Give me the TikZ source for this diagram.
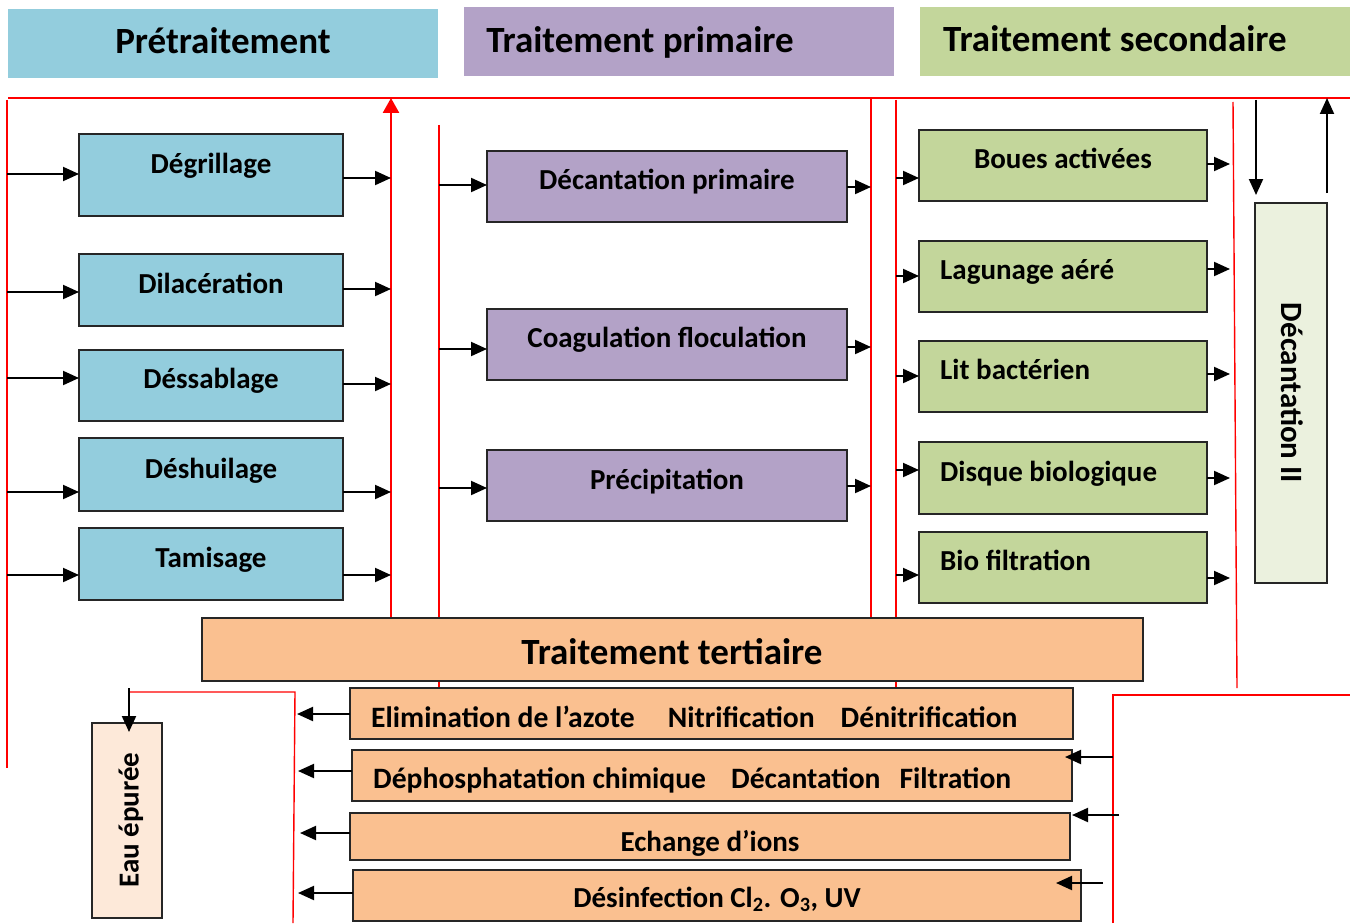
\documentclass[tikz,border=0pt]{standalone}
\usepackage{fontspec}
\setmainfont{Carlito}
\usetikzlibrary{arrows.meta}
\definecolor{cblue}{HTML}{93CDDD}
\definecolor{cpurple}{HTML}{B3A2C7}
\definecolor{cgreen}{HTML}{C3D69B}
\definecolor{corange}{HTML}{FAC090}
\definecolor{clgreen}{HTML}{EBF1DE}
\definecolor{cpeach}{HTML}{FDE9D9}
\definecolor{cred}{HTML}{FF0000}
\begin{document}
\begin{tikzpicture}[x=1pt,y=-1pt,
  box/.style={draw=black!85, line width=1.6pt, inner sep=0pt, outer sep=0pt},
  hdr/.style={inner sep=0pt, outer sep=0pt},
  btxt/.style={font=\fontsize{29}{34}\selectfont\bfseries, inner sep=0pt, anchor=base},
  ltxt/.style={font=\fontsize{29.6}{34}\selectfont\bfseries, inner sep=0pt, anchor=base west},
  htxt/.style={font=\fontsize{37}{42}\selectfont\bfseries, inner sep=0pt, anchor=base},
  arr/.style={-{Triangle[length=16pt,width=14pt]}, line width=2pt, black},
  redl/.style={cred, line width=1.4pt},
]
\useasboundingbox (0,0) rectangle (1359,923);
\fill[white] (0,0) rectangle (1359,923);

% headers
\node[hdr, fill=cblue, minimum width=430pt, minimum height=69pt] (h1) at (223,43.5) {};
\node[hdr, fill=cpurple, minimum width=430pt, minimum height=69pt] (h2) at (679,41.5) {};
\node[hdr, fill=cgreen, minimum width=430pt, minimum height=69pt] (h3) at (1135,41.5) {};
\node[htxt] (h1t) at (223,54) {Prétraitement};
\node[htxt] (h2t) at (640,53) {Traitement primaire};
\node[htxt] (h3t) at (1115,52) {Traitement secondaire};

% red line coordinates
\coordinate (rL) at (7,0);
\coordinate (r1) at (391,0);
\coordinate (r2) at (439,0);
\coordinate (r3) at (871,0);
\coordinate (r4) at (896,0);
\coordinate (r5) at (1230,0);
\coordinate (b1) at (297,0);

% red lines
\draw[redl] (8,98) -- (1350,98);
\draw[redl] (7,100) -- (7,768);
\draw[cred, line width=2.6pt, -{Triangle[length=15pt,width=16pt]}] (391,617) -- (391,98);
\draw[redl] (439,125) -- (439,688);
\draw[redl] (871,98) -- (871,617);
\draw[redl] (896,100) -- (896,688);
\draw[redl] (1233,102) -- (1237,688);
\draw[redl] (129,692) -- (295,692) -- (293,923);
\draw[redl] (1113,923) -- (1113,695) -- (1350,695);

% blue boxes
\node[box, fill=cblue, minimum width=264pt, minimum height=82pt] (deg) at (211,175) {};
\node[box, fill=cblue, minimum width=264pt, minimum height=72pt] (dil) at (211,290) {};
\node[box, fill=cblue, minimum width=264pt, minimum height=71pt] (dss) at (211,385.5) {};
\node[box, fill=cblue, minimum width=264pt, minimum height=73pt] (dsh) at (211,474.5) {};
\node[box, fill=cblue, minimum width=264pt, minimum height=72pt] (tam) at (211,564) {};
\node[btxt] at (211,173) {Dégrillage};
\node[btxt] at (211,293) {Dilacération};
\node[btxt] at (211,388) {Déssablage};
\node[btxt] at (211,478) {Déshuilage};
\node[btxt] at (211,567) {Tamisage};

% purple boxes
\node[box, fill=cpurple, minimum width=360pt, minimum height=71pt] (dp) at (667,186.5) {};
\node[box, fill=cpurple, minimum width=360pt, minimum height=71pt] (cf) at (667,344.5) {};
\node[box, fill=cpurple, minimum width=360pt, minimum height=71pt] (pr) at (667,485.5) {};
\node[btxt] at (667,189) {Décantation primaire};
\node[btxt] at (667,347) {Coagulation floculation};
\node[btxt] at (667,489) {Précipitation};

% green boxes
\node[box, fill=cgreen, minimum width=288pt, minimum height=71pt] (ba) at (1063,165.5) {};
\node[box, fill=cgreen, minimum width=288pt, minimum height=71pt] (la) at (1063,276.5) {};
\node[box, fill=cgreen, minimum width=288pt, minimum height=71pt] (lb) at (1063,376.5) {};
\node[box, fill=cgreen, minimum width=288pt, minimum height=72pt] (db) at (1063,478) {};
\node[box, fill=cgreen, minimum width=288pt, minimum height=71pt] (bf) at (1063,567.5) {};
\node[btxt] at (1063,168) {Boues activées};
\node[btxt, anchor=base west] at (940,279) {Lagunage aéré};
\node[btxt, anchor=base west] at (940,379) {Lit bactérien};
\node[btxt, anchor=base west] at (940,481) {Disque biologique};
\node[btxt, anchor=base west] at (940,570) {Bio filtration};

% decantation II
\node[box, fill=clgreen, minimum width=72pt, minimum height=380pt] (dec2) at (1291,393) {};
\node[font=\fontsize{31}{36}\selectfont\bfseries, inner sep=0pt, rotate=-90] at (1292,393) {Décantation II};

% tertiary
\node[box, fill=corange, minimum width=941pt, minimum height=63pt] (ter) at (672.5,649.5) {};
\node[htxt] at (672,664) {Traitement tertiaire};

% bottom boxes
\node[box, fill=corange, minimum width=723pt, minimum height=51pt] (el) at (711.5,713.5) {};
\node[box, fill=corange, minimum width=720pt, minimum height=51pt] (dph) at (712,775.5) {};
\node[box, fill=corange, minimum width=720pt, minimum height=47pt] (ei) at (710,836.5) {};
\node[box, fill=corange, minimum width=728pt, minimum height=51pt] (ds) at (717,895.5) {};
\node[ltxt] at (371,727) {Elimination de l’azote\hspace{33pt}Nitrification\hspace{26pt}Dénitrification};
\node[ltxt] at (373,788) {Déphosphatation chimique\hspace{25pt}Décantation\hspace{19pt}Filtration};
\node[btxt] at (710,851) {Echange d’ions};
\node[btxt] at (717,907) {Désinfection Cl\textsubscript{2}. O\textsubscript{3}, UV};

% eau epuree
\node[box, fill=cpeach, minimum width=70pt, minimum height=195pt] (eau) at (127,820.5) {};
\node[font=\fontsize{29}{34}\selectfont\bfseries, inner sep=0pt, rotate=90] at (131,820) {Eau épurée};

% arrows pretraitement
\draw[arr] (rL |- 0,174) -- (deg.west |- 0,174);
\draw[arr] (rL |- 0,292) -- (dil.west |- 0,292);
\draw[arr] (rL |- 0,378) -- (dss.west |- 0,378);
\draw[arr] (rL |- 0,492) -- (dsh.west |- 0,492);
\draw[arr] (rL |- 0,575) -- (tam.west |- 0,575);
\draw[arr] (deg.east |- 0,178) -- (r1 |- 0,178);
\draw[arr] (dil.east |- 0,289) -- (r1 |- 0,289);
\draw[arr] (dss.east |- 0,384) -- (r1 |- 0,384);
\draw[arr] (dsh.east |- 0,492) -- (r1 |- 0,492);
\draw[arr] (tam.east |- 0,575) -- (r1 |- 0,575);

% arrows primaire
\draw[arr] (r2 |- 0,185) -- (dp.west |- 0,185);
\draw[arr] (r2 |- 0,349) -- (cf.west |- 0,349);
\draw[arr] (r2 |- 0,488) -- (pr.west |- 0,488);
\draw[arr] (dp.east |- 0,187) -- (r3 |- 0,187);
\draw[arr] (cf.east |- 0,347) -- (r3 |- 0,347);
\draw[arr] (pr.east |- 0,486) -- (r3 |- 0,486);

% arrows secondaire
\draw[arr] (r4 |- 0,178) -- (ba.west |- 0,178);
\draw[arr] (r4 |- 0,276) -- (la.west |- 0,276);
\draw[arr] (r4 |- 0,376) -- (lb.west |- 0,376);
\draw[arr] (r4 |- 0,470) -- (db.west |- 0,470);
\draw[arr] (r4 |- 0,575) -- (bf.west |- 0,575);
\draw[arr] (ba.east |- 0,164) -- (r5 |- 0,164);
\draw[arr] (la.east |- 0,269) -- (r5 |- 0,269);
\draw[arr] (lb.east |- 0,374) -- (r5 |- 0,374);
\draw[arr] (db.east |- 0,478) -- (r5 |- 0,478);
\draw[arr] (bf.east |- 0,578) -- (r5 |- 0,578);

% decantation II arrows
\coordinate (dA) at (1256,100);
\coordinate (uA) at (1327,98);
\draw[arr] (dA) -- ([yshift=8pt]dec2.north -| dA);
\draw[arr] ([yshift=10pt]dec2.north east) -- (uA);

% bottom arrows
\draw[arr] (el.west |- 0,714) -- (b1 |- 0,714);
\draw[arr] (dph.west |- 0,771) -- ([xshift=1pt]b1 |- 0,771);
\draw[arr] (ei.west |- 0,833) -- ([xshift=3pt]b1 |- 0,833);
\draw[arr] (ds.west |- 0,893) -- ([xshift=1pt]b1 |- 0,893);
\coordinate (q1) at (1113,757);
\coordinate (q2) at (1119,815);
\coordinate (q3) at (1103,883);
\draw[arr] (q1) -- ([xshift=-7pt]dph.east |- q1);
\draw[arr] (q2) -- ([xshift=2pt]ei.east |- q2);
\draw[arr] (q3) -- ([xshift=-25pt]ds.east |- q3);
\coordinate (eA) at (129,688);
\draw[arr] (eA) -- ([yshift=-9pt]eau.north -| eA);
\end{tikzpicture}
\end{document}
